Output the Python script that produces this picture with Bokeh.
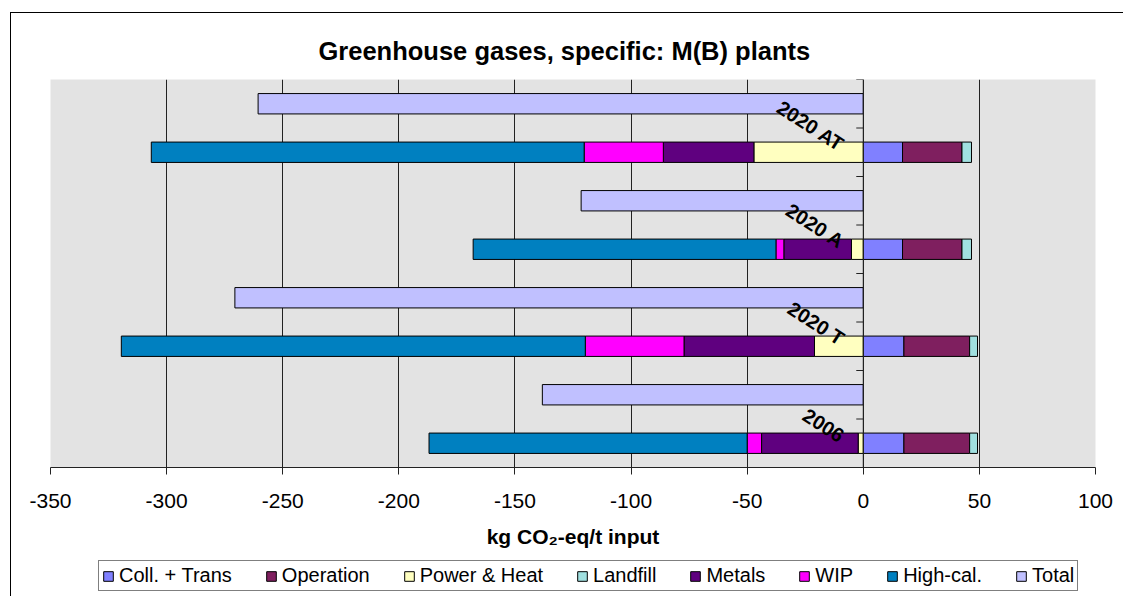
from bokeh.plotting import figure
from bokeh.layouts import column
from bokeh.models import Range1d, FixedTicker, Legend, LegendItem, Span
from bokeh.embed import file_html
from bokeh.resources import INLINE
from bokeh.core.properties import value
import numpy as np

# ---- data (kg CO2-eq / t input) ----
years = ["2006", "2020 T", "2020 A", "2020 AT"]
coll_trans = [17.5, 17.5, 16.9, 16.9]
operation = [28.3, 28.3, 25.6, 25.6]
landfill = [3.4, 3.4, 4.1, 4.1]
power_heat = [-2.2, -21.0, -5.1, -47.1]
metals = [-41.6, -56.2, -29.1, -39.0]
wip = [-6.2, -42.5, -3.4, -34.1]
high_cal = [-137.0, -199.8, -130.4, -186.4]
total = [-138.2, -270.6, -121.5, -260.6]

x_ticks = [-350, -300, -250, -200, -150, -100, -50, 0, 50, 100]

series_names = ["Coll. + Trans", "Operation", "Power & Heat", "Landfill",
                "Metals", "WIP", "High-cal.", "Total"]
colors = {"Coll. + Trans": "#8080FF", "Operation": "#7F1F5F",
          "Power & Heat": "#FFFFC0", "Landfill": "#A0E0E0",
          "Metals": "#5F007F", "WIP": "#FF00FF", "High-cal.": "#0080C0",
          "Total": "#C0C0FF"}

FONT = "Liberation Sans"

p = figure(width=1115, height=546, output_backend="svg", toolbar_location=None,
           x_range=Range1d(-350, 100), y_range=Range1d(0, 8),
           min_border_left=39, min_border_right=31, min_border_top=66,
           min_border_bottom=92,
           background_fill_color="#E3E3E3", border_fill_color="white")
p.outline_line_color = None

idx = np.arange(len(years))
y_stack = 2 * idx + 0.5
y_total = 2 * idx + 1.5
H = 0.42

# positive stack
pos_series = [("Coll. + Trans", coll_trans), ("Operation", operation), ("Landfill", landfill)]
base = np.zeros(len(years))
for name, vals in pos_series:
    v = np.array(vals)
    p.hbar(y=y_stack, left=base, right=base + v, height=H,
           fill_color=colors[name], line_color="black", line_width=1)
    base = base + v
# negative stack
neg_series = [("Power & Heat", power_heat), ("Metals", metals), ("WIP", wip), ("High-cal.", high_cal)]
base = np.zeros(len(years))
for name, vals in neg_series:
    v = np.array(vals)
    p.hbar(y=y_stack, left=base + v, right=base, height=H,
           fill_color=colors[name], line_color="black", line_width=1)
    base = base + v
p.hbar(y=y_total, left=np.array(total), right=0, height=H,
       fill_color=colors["Total"], line_color="black", line_width=1)

# vertical category axis at x = 0
p.add_layout(Span(location=0, dimension="height", line_color="#222222", line_width=1))
y_ticks = np.arange(0, 9)
p.ray(x=np.zeros(len(y_ticks)), y=y_ticks, length=7, length_units="screen",
      angle=np.pi, line_color="#222222", line_width=1)

# category labels
p.text(x=np.zeros(len(years)), y=y_stack, text=years, angle=-0.57,
       text_align="right", text_baseline="middle", x_offset=-21, y_offset=-6,
       text_font=value(FONT), text_font_style="bold", text_font_size="20px",
       text_color="black")

p.yaxis.visible = False

# x axis
p.xaxis.ticker = FixedTicker(ticks=x_ticks)
p.xaxis.major_label_overrides = {t: str(t) for t in x_ticks}
p.xaxis.major_label_text_font = FONT
p.xaxis.major_label_text_font_size = "21px"
p.xaxis.major_label_text_color = "black"
p.xaxis.major_tick_out = 7
p.xaxis.major_tick_in = 0
p.xaxis.minor_tick_line_color = None
p.xaxis.axis_line_color = "#222222"
p.xaxis.major_tick_line_color = "#222222"
p.xaxis.major_label_standoff = 19
p.xaxis.axis_label = "kg CO\u2082-eq/t input"
p.xaxis.axis_label_text_font = FONT
p.xaxis.axis_label_text_font_style = "bold"
p.xaxis.axis_label_text_font_size = "21px"
p.xaxis.axis_label_text_color = "black"
p.xaxis.axis_label_standoff = 14

p.xgrid.ticker = FixedTicker(ticks=x_ticks)
p.xgrid.grid_line_color = "#222222"
p.xgrid.grid_line_width = 1
p.ygrid.grid_line_color = None

# title
p.title.text = "Greenhouse gases, specific: M(B) plants"
p.title.text_font = FONT
p.title.text_font_style = "bold"
p.title.text_font_size = "25.5px"
p.title.text_color = "black"
p.title.align = "left"
p.title.offset = 268
p.title.standoff = 29

# ---- legend strip (separate small figure below the chart) ----
q = figure(width=1115, height=37, output_backend="svg", toolbar_location=None,
           x_range=Range1d(0, 1), y_range=Range1d(0, 1),
           x_axis_location=None, y_axis_location=None,
           min_border_left=0, min_border_right=0, min_border_top=0, min_border_bottom=0,
           background_fill_color="white", border_fill_color="white")
q.outline_line_color = None
q.xgrid.grid_line_color = None
q.ygrid.grid_line_color = None
legend_renderers = {}
for name in series_names:
    # placeholder renderers outside the visible range, used only for legend swatches
    legend_renderers[name] = q.hbar(y=[-5], left=[0], right=[1], height=0.5,
                                    fill_color=colors[name], line_color="black", line_width=1)

legend = Legend(items=[LegendItem(label=n, renderers=[legend_renderers[n]]) for n in series_names],
                orientation="horizontal", location=(48, 5))
legend.label_text_font = FONT
legend.label_text_font_size = "20px"
legend.label_text_color = "black"
legend.glyph_width = 12
legend.glyph_height = 12
legend.label_standoff = 5
legend.spacing = 33
legend.padding = 3
legend.margin = 0
legend.border_line_color = "black"
legend.border_line_width = 1
legend.background_fill_color = "white"
legend.background_fill_alpha = 1
q.add_layout(legend, "center")

layout = column(p, q, spacing=0,
                styles={"border": "1px solid #000000", "margin-left": "10px", "margin-top": "12px"})

open("out.html", "w").write(file_html(layout, INLINE))
